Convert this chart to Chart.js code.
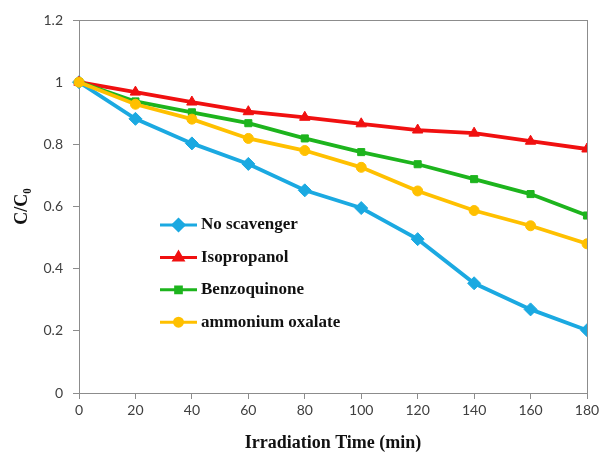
<!DOCTYPE html>
<html>
<head>
<meta charset="utf-8">
<script src="https://cdn.jsdelivr.net/npm/chart.js@4/dist/chart.umd.min.js"></script>
<style>
    html, body { margin: 0; padding: 0; background: #fff; }
    #wrap { width: 604px; height: 464px; }
</style>
</head>
<body>
<div id="wrap"><canvas id="chart"></canvas></div>
<script>
const times = [0, 20, 40, 60, 80, 100, 120, 140, 160, 180]
const noScavenger = [1, 0.882, 0.803, 0.737, 0.652, 0.595, 0.495, 0.353, 0.269, 0.202]
const isopropanol = [1, 0.968, 0.936, 0.905, 0.887, 0.866, 0.846, 0.836, 0.81, 0.785]
const benzoquinone = [1, 0.938, 0.903, 0.868, 0.819, 0.775, 0.736, 0.688, 0.64, 0.571]
const ammoniumOxalate = [1, 0.929, 0.881, 0.819, 0.78, 0.726, 0.65, 0.587, 0.538, 0.48]
const seriesNames = ['No scavenger', 'Isopropanol', 'Benzoquinone', 'ammonium oxalate']

const axisColor = '#8c8c8c'
const tickFont = { family: 'Lato', size: 14 }
const titleFont = { family: 'Liberation Serif', size: 18, weight: 'bold' }

function series(label, values, color, style, radius, order) {
    return {
        label: label,
        data: times.map((t, i) => ({ x: t, y: values[i] })),
        borderColor: color,
        backgroundColor: color,
        borderWidth: 3.8,
        pointStyle: style,
        pointRadius: radius,
        pointBorderWidth: 1,
        order: order,
        clip: { left: 10, top: 10, right: 0, bottom: 10 }
    }
}

// frame around the plot (top and right edges)
const frame = {
    id: 'frame',
    beforeDatasetsDraw(chart) {
        const a = chart.chartArea
        const ctx = chart.ctx
        ctx.save()
        ctx.strokeStyle = axisColor
        ctx.lineWidth = 1
        ctx.strokeRect(Math.round(a.left) + 0.5, Math.round(a.top) + 0.5, Math.round(a.right - a.left), Math.round(a.bottom - a.top))
        ctx.restore()
    }
}

// legend with line + marker, placed inside the plot
const lineLegend = {
    id: 'lineLegend',
    afterDraw(chart) {
        const a = chart.chartArea
        const ctx = chart.ctx
        ctx.save()
        chart.data.datasets.forEach((ds, i) => {
            const y = a.top + 205 + i * 32.4
            const x0 = a.left + 81
            const x1 = a.left + 118
            ctx.strokeStyle = ds.borderColor
            ctx.fillStyle = ds.backgroundColor
            ctx.lineWidth = 3
            ctx.beginPath()
            ctx.moveTo(x0, y)
            ctx.lineTo(x1, y)
            ctx.stroke()
            Chart.helpers.drawPoint(ctx, { pointStyle: ds.pointStyle, radius: ds.pointRadius - 1, rotation: 0, borderWidth: 1 }, (x0 + x1) / 2, y)
            ctx.fillStyle = '#111'
            ctx.font = 'bold 17px "Liberation Serif"'
            ctx.textBaseline = 'middle'
            ctx.fillText(ds.label, x1 + 4, y)
        })
        ctx.restore()
    }
}

new Chart(document.getElementById('chart'), {
    type: 'line',
    data: {
        datasets: [
            series(seriesNames[0], noScavenger, '#1ba9e1', 'rectRot', 6.5, 4),
            series(seriesNames[1], isopropanol, '#f01010', 'triangle', 6, 3),
            series(seriesNames[2], benzoquinone, '#1db41d', 'rect', 5, 2),
            series(seriesNames[3], ammoniumOxalate, '#ffc000', 'circle', 5, 1)
        ]
    },
    options: {
        responsive: true,
        maintainAspectRatio: false,
        animation: false,
        layout: { padding: { top: 20, right: 17, left: 0, bottom: 0 } },
        plugins: { legend: { display: false }, tooltip: { enabled: false } },
        scales: {
            x: {
                type: 'linear',
                min: 0,
                max: 180,
                afterFit(scale) { scale.height = 71 },
                ticks: { stepSize: 20, color: '#404040', font: tickFont, padding: 3, maxRotation: 0 },
                grid: { drawOnChartArea: false, drawTicks: true, tickLength: 6, color: axisColor },
                border: { color: axisColor },
                title: { display: true, text: 'Irradiation Time (min)', color: '#111', font: titleFont, padding: { top: 4, bottom: 10 } }
            },
            y: {
                min: 0,
                max: 1.2,
                afterFit(scale) { scale.width = 79 },
                ticks: { stepSize: 0.2, color: '#404040', font: tickFont, padding: 10, callback: v => String(+v.toFixed(1)) },
                grid: { drawOnChartArea: false, drawTicks: true, tickLength: 6, color: axisColor },
                border: { color: axisColor },
                title: { display: true, text: 'C/C\u2080', color: '#111', font: titleFont, padding: { top: 12, bottom: 0 } }
            }
        }
    },
    plugins: [frame, lineLegend]
})
</script>
</body>
</html>
